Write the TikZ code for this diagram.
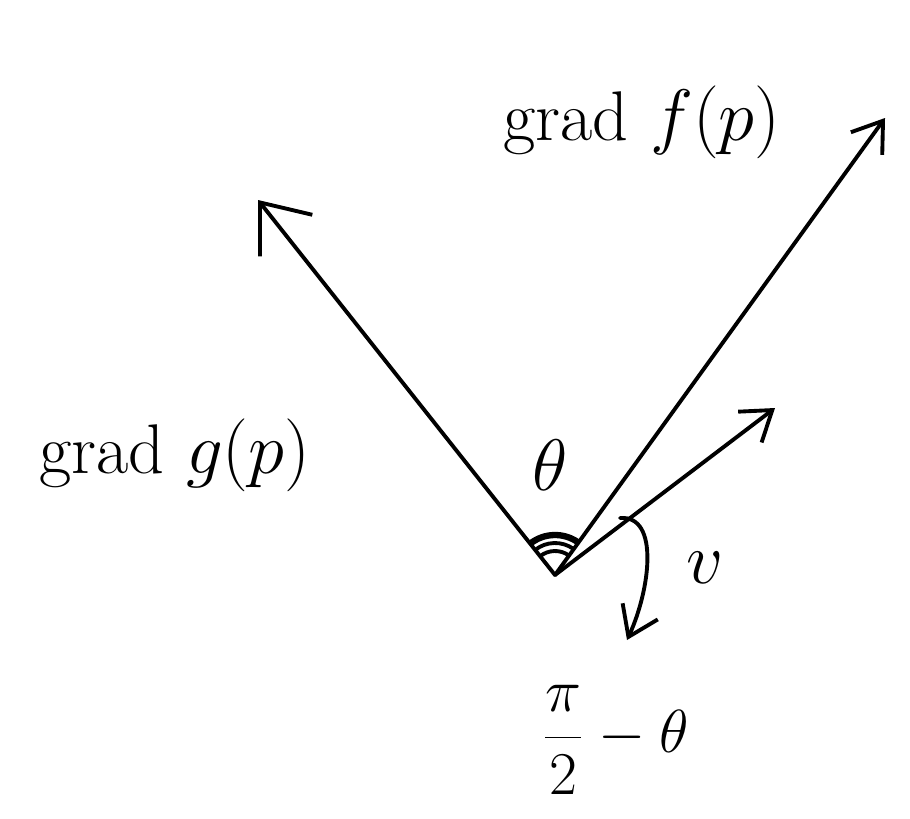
\documentclass[tikz,border=0pt]{standalone}
\usetikzlibrary{arrows.meta}
\begin{document}
\begin{tikzpicture}[x=0.01cm,y=-0.01cm,
  vec/.style={line width=1.1pt, line cap=round, line join=round, -{Straight Barb[length=12pt,width=19pt,line width=1.1pt]}},
  smallvec/.style={line width=1.1pt, line cap=round, -{Straight Barb[length=8pt,width=11pt,line width=1.1pt]}},
  lbl/.style={font=\fontsize{20}{24}\selectfont, inner sep=0pt}]
\useasboundingbox (0,0) rectangle (910,818);
\coordinate (O) at (555,575);
\coordinate (G) at (258,200);
\coordinate (F) at (885,118);
\coordinate (V) at (775,408);
\coordinate (C1) at (620,518);
\coordinate (C2) at (627,640);
\draw[vec] (O) -- (G);
\draw[smallvec] (O) -- (F);
\draw[smallvec] (O) -- (V);
% theta arcs
\draw[line width=1.8pt] (O) ++(-129:40) arc[start angle=-129, end angle=-54, radius=40];
\draw[line width=1.1pt] (O) ++(-129:32) arc[start angle=-129, end angle=-54, radius=32];
\draw[line width=1.1pt] (O) ++(-129:24) arc[start angle=-129, end angle=-54, radius=24];
% pi/2 - theta arrow
\draw[smallvec] (C1) .. controls (660,515) and (650,590) .. (C2);
\node[lbl] (lf) at (642,122) {grad $f(p)$};
\node[lbl] (lg) at (175,455) {grad $g(p)$};
\node[lbl] (lt) at (550,465) {$\theta$};
\node[lbl] (lv) at (705,568) {$v$};
\node[lbl,font=\fontsize{18}{22}\selectfont] (lp) at (615,740) {$\displaystyle\frac{\pi}{2}-\theta$};
\end{tikzpicture}
\end{document}
